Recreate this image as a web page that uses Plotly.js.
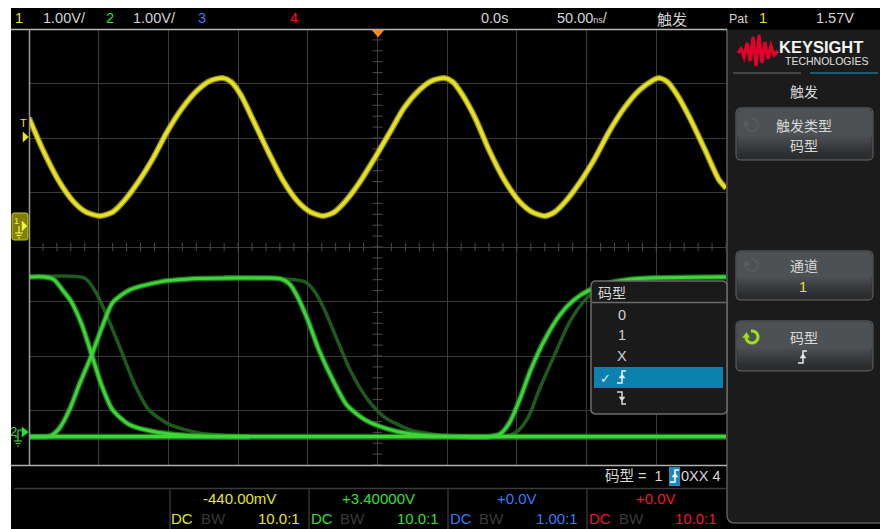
<!DOCTYPE html>
<html><head><meta charset="utf-8">
<script src="https://cdn.plot.ly/plotly-3.0.1.min.js"></script>
<style>html,body{margin:0;padding:0;background:#fff;overflow:hidden}#chart{width:880px;height:529px}</style>
</head><body><div id="chart"></div>
<script>
// ---------- DATA (time in ns, voltage in V) ----------
const ch1Time = [-250,-240,-229,-218,-209,-199,-190,-183,-172,-161,-151,-140,-129,-120,-111,-105,-98,-90,-79,-68,-57,-48,-39,-31,-24,-13,-2,9,19,30,39,48,54,61,70,80,91,102,111,120,127,134,145,156,166,177,188,197,202,208,215,224,235,245,250];
const ch1Volts = [2.02,1.43,0.88,0.48,0.29,0.22,0.29,0.46,0.83,1.28,1.76,2.20,2.53,2.70,2.75,2.68,2.44,2.02,1.43,0.88,0.48,0.29,0.22,0.29,0.46,0.83,1.28,1.76,2.20,2.53,2.70,2.75,2.68,2.44,2.02,1.43,0.88,0.48,0.29,0.22,0.29,0.46,0.83,1.28,1.76,2.20,2.53,2.70,2.75,2.68,2.44,2.02,1.43,0.88,0.73];

const ch2MainTime = [-250,-242,-235,-228,-221,-214,-205,-197,-190,-178,-156,-128,-85,-70,-63,-57,-50,-42,-32,-22,-9,9,30,59,80,88,95,102,110,120,131,141,152,166,188,250];
const ch2MainVolts = [-0.07,-0.07,-0.06,0.09,0.42,0.88,1.43,1.98,2.39,2.62,2.77,2.83,2.84,2.83,2.73,2.48,2.07,1.52,0.97,0.51,0.24,0.06,-0.04,-0.07,-0.07,-0.02,0.20,0.61,1.16,1.71,2.17,2.44,2.62,2.75,2.83,2.86];
const ch2FallTime = [-250,-239,-232,-225,-220,-212,-205,-198,-190,-178,-160,-128,-92];
const ch2FallVolts = [2.86,2.86,2.81,2.59,2.42,1.98,1.43,0.88,0.42,0.15,0.02,-0.06,-0.07];
const ch2DimLTime = [-250,-210,-203,-196,-185,-174,-164,-149,-128,-99];
const ch2DimLVolts = [2.86,2.84,2.62,2.26,1.58,0.88,0.42,0.15,0.00,-0.06];
const ch2DimMTime = [-110,-52,-45,-38,-29,-19,-7,5,23,44];
const ch2DimMVolts = [2.86,2.77,2.59,2.26,1.71,1.12,0.61,0.29,0.06,-0.04];
const ch2DimRTime = [73,91,100,108,116,127,138,149,159,177,202,250];
const ch2DimRVolts = [-0.07,-0.07,0.02,0.28,0.79,1.43,2.04,2.44,2.66,2.79,2.84,2.86];
const ch2LowTime = [-250,250];
const ch2LowVolts = [-0.07,-0.07];

const topLabels = ['1','1.00V/','2','1.00V/','3','4','0.0s','50.00','触发','Pat','1','1.57V'];
const chOffsets = ['-440.00mV','+3.40000V','+0.0V','+0.0V'];
const chProbes = ['10.0:1','10.0:1','1.00:1','10.0:1'];
const patternItems = ['0','1','X'];

// ---------- SCREEN LAYOUT ----------
const L=29, T=29, PW=697, PH=436;
const X = px => (px - L)/PW;
const Y = py => (T + PH - py)/PH;
const CH1_GND_DIV = 0.35, CH2_GND_DIV = -3.41;
const F = 'Liberation Sans, Arial, Noto Sans CJK SC, sans-serif';
const CJK = 'Noto Sans CJK SC, Liberation Sans, sans-serif';
const GREY = '#d4d4d4';
const YEL = '#e6e61e', GRN = '#2ee02e', BLU = '#2f7dff', RED = '#f0142d';

function txt(px,py,s,color,size,anchor,family){
  return {xref:'paper',yref:'paper',x:X(px),y:Y(py),text:s,showarrow:false,
    xanchor:anchor||'center',yanchor:'middle',borderpad:0,
    font:{family:family||F,size:size||14,color:color||GREY}};
}
function rect(x0,y0,x1,y1,fill,lc,lw,layer){
  return {type:'rect',xref:'paper',yref:'paper',x0:X(x0),x1:X(x1),y0:Y(y1),y1:Y(y0),
    fillcolor:fill||'rgba(0,0,0,0)',line:{color:lc||'rgba(0,0,0,0)',width:lw||0},layer:layer||'above'};
}
function seg(x0,y0,x1,y1,c,w,layer){
  return {type:'line',xref:'paper',yref:'paper',x0:X(x0),x1:X(x1),y0:Y(y0),y1:Y(y1),
    line:{color:c,width:w||1},layer:layer||'above'};
}
function poly(pts,closed,fill,lc,lw,layer){
  const d = pts.map((p,i)=>(i?'L':'M')+X(p[0]).toFixed(5)+','+Y(p[1]).toFixed(5)).join(' ')+(closed?' Z':'');
  return {type:'path',xref:'paper',yref:'paper',path:d,fillcolor:fill||'rgba(0,0,0,0)',
    line:{color:lc||'rgba(0,0,0,0)',width:lw||0},layer:layer||'above'};
}
function rrect(x0,y0,x1,y1,r,fill,lc,lw,layer){
  const P=(a,b)=>X(a).toFixed(5)+','+Y(b).toFixed(5);
  const d='M'+P(x0+r,y0)+' L'+P(x1-r,y0)+' Q'+P(x1,y0)+' '+P(x1,y0+r)+' L'+P(x1,y1-r)+' Q'+P(x1,y1)+' '+P(x1-r,y1)+
    ' L'+P(x0+r,y1)+' Q'+P(x0,y1)+' '+P(x0,y1-r)+' L'+P(x0,y0+r)+' Q'+P(x0,y0)+' '+P(x0+r,y0)+' Z';
  return {type:'path',xref:'paper',yref:'paper',path:d,fillcolor:fill||'rgba(0,0,0,0)',
    line:{color:lc||'rgba(0,0,0,0)',width:lw||0},layer:layer||'above'};
}
function edgeGlyph(cx,cy,rising,color){
  const s=[];
  if(rising){
    s.push(poly([[cx-5,cy+6],[cx,cy+6],[cx,cy-6],[cx+4,cy-6]],false,null,color,1.5));
    s.push(poly([[cx-3,cy+1],[cx,cy-3],[cx+3,cy+1]],true,color,color,0.5));
  } else {
    s.push(poly([[cx-5,cy-6],[cx,cy-6],[cx,cy+6],[cx+4,cy+6]],false,null,color,1.5));
    s.push(poly([[cx-3,cy-1],[cx,cy+3],[cx+3,cy-1]],true,color,color,0.5));
  }
  return s;
}
function circArrow(cx,cy,r,color,w){
  const pts=[];
  for(let a=100;a>=-185;a-=15){const t=a*Math.PI/180;pts.push([cx+r*Math.cos(t),cy-r*Math.sin(t)]);}
  const e=pts[pts.length-1];
  return [poly(pts,false,null,color,w),
    poly([[e[0]-3.5,e[1]+1],[e[0]+0.5,e[1]-4],[e[0]+3.5,e[1]+1]],true,color,color,0.5)];
}
function button(x0,y0,x1,y1){
  const s=[];
  s.push(rrect(x0,y0,x1,y1,5,'#2a2c2e','#66696c',1));
  const mid=y0+(y1-y0)*0.5;
  s.push(rrect(x0+1,y0+1,x1-1,mid+4,4,'#4e5154'));
  const N=10, y2=y1-5;
  for(let i=0;i<N;i++){
    const f=i/(N-1);
    const c=Math.round(78-(78-44)*f), c2=Math.round(81-(81-46)*f), c3=Math.round(84-(84-48)*f);
    s.push(rect(x0+1.5,mid+(y2-mid)*i/N,x1-1.5,mid+(y2-mid)*(i+1)/N+0.6,`rgb(${c},${c2},${c3})`));
  }
  return s;
}

// ---------- TRACES ----------
const traces = [];
function addLine(t,v,axis,color,width){
  traces.push({x:t,y:v,yaxis:axis,mode:'lines',hoverinfo:'skip',showlegend:false,
    line:{color:color,width:width,shape:'spline',smoothing:0.7}});
}
// graticule ticks on centre lines
const tickT=[],tickZ=[],tickD=[],tickZ2=[];
for(let t=-250;t<=250;t+=10){tickT.push(t);tickZ.push(0);}
for(let d=-4;d<=4.001;d+=0.2){tickD.push(+d.toFixed(2));tickZ2.push(0);}
traces.push({x:tickT,y:tickZ,mode:'markers',hoverinfo:'skip',showlegend:false,
  marker:{symbol:'line-ns',size:6,line:{color:'#4a4a4a',width:1}}});
traces.push({x:tickZ2,y:tickD,mode:'markers',hoverinfo:'skip',showlegend:false,
  marker:{symbol:'line-ew',size:7,line:{color:'#4a4a4a',width:1}}});

const DIMG='rgba(32,100,30,0.9)';
addLine(ch2DimLTime,ch2DimLVolts,'y3',DIMG,3.5);
addLine(ch2DimMTime,ch2DimMVolts,'y3',DIMG,3.5);
addLine(ch2DimRTime,ch2DimRVolts,'y3',DIMG,3.5);
const GLOW='rgba(40,170,35,0.7)', CORE='#40d43a';
addLine(ch2LowTime,ch2LowVolts,'y3',GLOW,6);
addLine(ch2FallTime,ch2FallVolts,'y3',GLOW,5.5);
addLine(ch2MainTime,ch2MainVolts,'y3',GLOW,5.5);
addLine(ch2LowTime,ch2LowVolts,'y3',CORE,3.2);
addLine(ch2FallTime,ch2FallVolts,'y3',CORE,3);
addLine(ch2MainTime,ch2MainVolts,'y3',CORE,3);
addLine(ch1Time,ch1Volts,'y2','rgba(200,195,20,0.7)',6);
addLine(ch1Time,ch1Volts,'y2','#e6e02a',3.6);

// ---------- SHAPES ----------
const shapes=[];
shapes.push(rect(11,8,880,529,'#000',null,0,'below'));
// right panel
shapes.push(rrect(727,14,890,523,8,'#1b1b1b','#5c5c5c',1.5));
shapes.push(rect(726,8,880,29.5,'#000'));
// borders
shapes.push(seg(11,29.5,727,29.5,'#b8b8b8',1.5));
shapes.push(seg(29.5,29,29.5,465,'#9a9a9a',1.5));
shapes.push(seg(11,465.5,727,465.5,'#b0b0b0',1.5));
shapes.push(seg(14,488.5,727,488.5,'#3a3a3a',1.5));
[170,309,448,587].forEach(x=>shapes.push(seg(x,489,x,529,'#333',1.5)));
// trigger marker top
shapes.push(poly([[372,30],[384,30],[378,37]],true,'#ff8c1a','#ff8c1a',0.5));
// logo
shapes.push(poly([[738,53],[741,49],[744,57],[747,43],[750,61],[753,37],[756,66],[759,35],[762,63],[765,42],[768,59],[771,46],[774,55],[778,51]],false,null,'#e4002b',3.2));
shapes.push(seg(733,73,801,73,'#444',2));
shapes.push(seg(810,73,878,73,'#135f78',2));
// buttons
button(736,108,873,160).forEach(s=>shapes.push(s));
button(736,251,873,300).forEach(s=>shapes.push(s));
button(736,321,873,371).forEach(s=>shapes.push(s));
circArrow(752,125,6,'#5a5d60',1.5).forEach(s=>shapes.push(s));
circArrow(752,265,6,'#5a5d60',1.5).forEach(s=>shapes.push(s));
circArrow(752,337,6,'#9ee01a',3).forEach(s=>shapes.push(s));
edgeGlyph(803,357,true,'#e8e8e8').forEach(s=>shapes.push(s));
// popup
shapes.push(rrect(591,281,727,414,5,'#1a1a1a','#6c6c6c',1.5));
shapes.push(seg(592,302.5,726,302.5,'#6c6c6c',1.5));
shapes.push(rect(594,367,723,388,'#0b82ad'));
edgeGlyph(622,377,true,'#f0f0f0').forEach(s=>shapes.push(s));
edgeGlyph(622,398,false,'#d8d8d8').forEach(s=>shapes.push(s));
// pattern readout highlight
shapes.push(rect(669,467,680,486,'#1a8ab8'));
edgeGlyph(675,476,true,'#ffffff').forEach(s=>shapes.push(s));
// left markers
shapes.push(poly([[23,132],[28.5,137],[23,142]],true,YEL,YEL,0.5));
shapes.push(rrect(12,213,28,240,2,'#7e7e08','#c8c81a',1));
shapes.push(poly([[22,221],[27,226],[22,231]],true,'#f4f440','#f4f440',0.5));
shapes.push(seg(19,226,19,233,'#f4f440',1.2));
shapes.push(seg(15,233,23,233,'#f4f440',1.2));
shapes.push(seg(16.5,235.5,21.5,235.5,'#f4f440',1.2));
shapes.push(seg(18,238,20,238,'#f4f440',1.2));
shapes.push(poly([[22,427],[28.5,432],[22,437]],true,GRN,GRN,0.5));
shapes.push(poly([[15,437],[18,437],[18,430],[22,430]],false,null,GRN,1.2));
shapes.push(seg(18,437,18,441,GRN,1.2));
shapes.push(seg(14,441,22,441,GRN,1.2));
shapes.push(seg(15.5,443.5,20.5,443.5,GRN,1.2));
shapes.push(seg(17,446,19,446,GRN,1.2));

// ---------- ANNOTATIONS ----------
const ann=[];
ann.push(txt(19,18,topLabels[0],YEL,14.5));
ann.push(txt(42,18,topLabels[1],GREY,14.5,'left'));
ann.push(txt(110,18,topLabels[2],GRN,14.5));
ann.push(txt(132,18,topLabels[3],GREY,14.5,'left'));
ann.push(txt(202,18,topLabels[4],BLU,14.5));
ann.push(txt(294,18,topLabels[5],RED,14.5));
ann.push(txt(494,18,topLabels[6],GREY,14.5));
ann.push(txt(582,18,topLabels[7]+'<span style="font-size:9px">ns</span>/',GREY,14.5));
ann.push(txt(672,18,topLabels[8],GREY,15,'center',CJK));
ann.push(txt(738,19,topLabels[9],GREY,12.5));
ann.push(txt(763,18,topLabels[10],YEL,14.5));
ann.push(txt(835,18,topLabels[11],GREY,14.5));
ann.push(txt(23,123,'T',YEL,11));
ann.push(txt(16,221,'1','#f4f440',9));
ann.push(txt(13,431,'2',GRN,13));
// right panel
ann.push(txt(821,47,'<b>KEYSIGHT</b>','#f4f4f4',16.5,'center','Liberation Sans, Arial, sans-serif'));
ann.push(txt(826,61,'TECHNOLOGIES','#e0e0e0',10.5,'center','Liberation Sans, Arial, sans-serif'));
ann.push(txt(804,91,'触发','#d8d8d8',14,'center',CJK));
ann.push(txt(804,125,'触发类型','#d8d8d8',14,'center',CJK));
ann.push(txt(804,145,'码型','#d8d8d8',14,'center',CJK));
ann.push(txt(804,265,'通道','#d8d8d8',14,'center',CJK));
ann.push(txt(803,287,'1',YEL,14.5));
ann.push(txt(804,337,'码型','#d8d8d8',14,'center',CJK));
// popup
ann.push(txt(597,292,'码型','#d8d8d8',14,'left',CJK));
patternItems.forEach((s,i)=>ann.push(txt(622,[315,335,356][i],s,'#d0d0d0',14.5)));
ann.push(txt(605,378,'✓','#e8e8e8',13,'center','DejaVu Sans'));
// pattern readout
ann.push(txt(664,476,'码型 =  1','#d8d8d8',14.5,'right',F));
ann.push(txt(680,476,'0XX 4','#d8d8d8',14.5,'left'));
// channel boxes
const chCols=[YEL,GRN,BLU,RED];
const offX=[239,378,517,656], dcX=[182,322,461,600], bwX=[213,352,491,631], prX=[301,440,579,718];
for(let i=0;i<4;i++){
  ann.push(txt(offX[i],498,chOffsets[i],chCols[i],15));
  ann.push(txt(dcX[i],518,'DC',chCols[i],15));
  ann.push(txt(bwX[i],518,'BW','#3a3a3a',15));
  ann.push(txt(prX[i],518,chProbes[i],chCols[i],15,'right'));
}

const axisBase={showticklabels:false,ticks:'',zeroline:false,showline:false,fixedrange:true};
const layout={
  width:880,height:529,
  margin:{l:L,r:880-L-PW,t:T,b:529-T-PH,autoexpand:false},
  paper_bgcolor:'#ffffff',plot_bgcolor:'#000000',
  showlegend:false,
  xaxis:Object.assign({},axisBase,{range:[-250,250],dtick:50,tick0:0,showgrid:true,gridcolor:'#3a3a3a',gridwidth:1}),
  yaxis:Object.assign({},axisBase,{range:[-4,4],dtick:1,tick0:0,showgrid:true,gridcolor:'#3a3a3a',gridwidth:1}),
  yaxis2:Object.assign({},axisBase,{overlaying:'y',range:[-4-CH1_GND_DIV,4-CH1_GND_DIV],showgrid:false,visible:false}),
  yaxis3:Object.assign({},axisBase,{overlaying:'y',range:[-4-CH2_GND_DIV,4-CH2_GND_DIV],showgrid:false,visible:false}),
  shapes:shapes,annotations:ann
};
Plotly.newPlot('chart',traces,layout,{displayModeBar:false,staticPlot:true});
</script></body></html>
